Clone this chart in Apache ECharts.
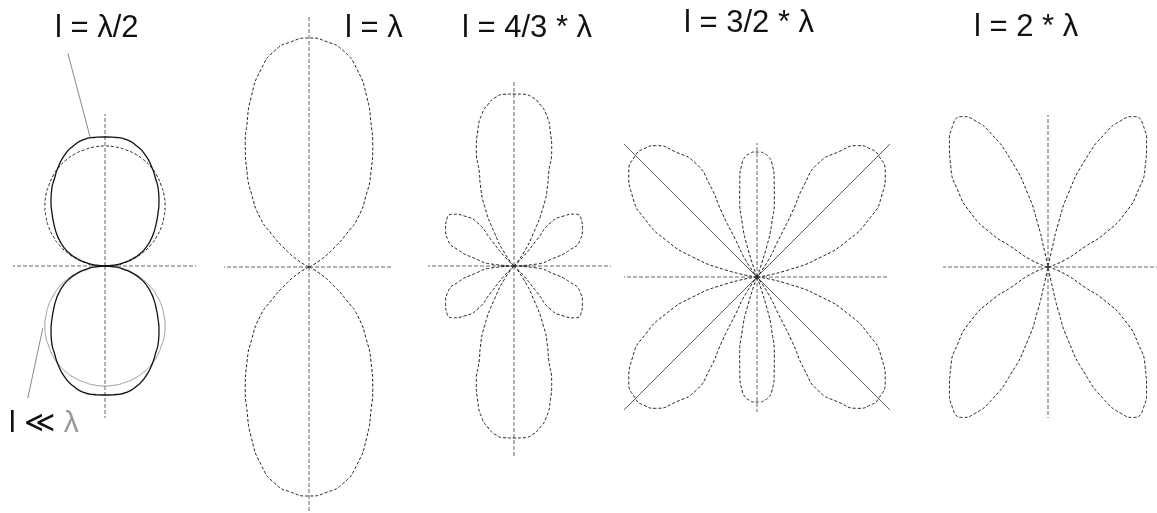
<!DOCTYPE html>
<html>
<head>
<meta charset="utf-8">
<title>Dipole radiation patterns</title>
<script src="https://cdn.jsdelivr.net/npm/echarts@6/dist/echarts.min.js"></script>
<style>
    html, body { margin: 0; padding: 0; background: #fff; }
    #main { width: 1157px; height: 513px; }
</style>
</head>
<body>
<div id="main"></div>
<script>
// outlines, one quadrant each: [angle from the dipole axis (deg), radius]
var shortDipole = [[0, 0], [5, 10.5], [10, 21], [15, 31], [20, 41], [25, 51], [30, 60], [35, 69], [40, 77], [45, 85], [50, 92],
    [55, 98], [60, 104], [65, 109], [70, 113], [75, 116], [80, 118], [85, 119.5], [90, 120]];
var halfWave = [[0, 0], [5, 9], [10, 19], [15, 29], [20, 38], [25, 46], [30, 53], [35, 60], [40, 67], [45, 75], [50, 84],
    [55, 93], [60, 101], [65, 110], [70, 118], [75, 124], [80, 128], [85, 129], [90, 129]];
var fullWave = [[0, 0], [31.3, 13], [37, 30], [41.5, 50], [45.4, 70], [51.8, 93], [56.5, 112], [62.7, 139], [65.9, 153],
    [71.3, 180], [76.5, 204], [81, 219], [85.5, 226], [90, 229]];
var fourThirdsSide = [[0, 0], [5, 23], [11, 40], [16, 58], [21.5, 71], [28.7, 78], [35, 82], [40.4, 80], [45.4, 70],
    [49.9, 56], [48.9, 35], [45, 13], [45, 0]];
var fourThirdsMain = [[54, 0], [54, 16], [59.4, 38], [63.7, 66], [67.5, 88], [69.7, 100], [72, 122], [75, 140], [78, 155],
    [81, 164], [84, 170], [87, 172], [90, 172]];
var threeHalvesBig = [[0, 0], [12.6, 32], [17.4, 68], [22, 98], [27.1, 125], [32.8, 148], [39, 165], [45.2, 172], [48.5, 171],
    [52.3, 166], [57, 149], [61.7, 129], [62.9, 105], [61.4, 72], [60, 43], [56, 20], [56, 0]];
var threeHalvesSmall = [[70, 0], [72.3, 32], [74.7, 56], [77.8, 82], [79.9, 98], [82.6, 115], [84.6, 121], [87, 124],
    [88.5, 125], [90, 125]];
var twoWave = [[0, 0], [22.4, 18], [28.8, 42], [30.6, 66], [34.9, 94], [40.5, 119], [46, 140], [51.4, 158], [55.8, 170],
    [60.4, 173], [63.4, 164], [66.9, 145], [70.9, 113], [74.6, 76], [76.7, 45], [77.7, 17], [78, 0]];

// dashed reference axes of each diagram: [angle, arm length]
var arms1 = [[90, 152], [270, 152], [180, 92], [0, 91]];
var arms2 = [[90, 252], [270, 246], [180, 85], [0, 84]];
var arms3 = [[90, 186], [270, 192], [180, 86], [0, 97]];
var arms4 = [[90, 134], [270, 135], [180, 133], [0, 131]];
var diag4 = [[45, 188], [135, 188], [225, 188], [315, 188]];
var arms5 = [[90, 152], [270, 151], [180, 105], [0, 109]];

// pointer lines of the first diagram: [angle, radius] at both ends
var pointerHalf = [[96.6, 130], [99.9, 216]];
var pointerShort = [[225, 88], [239.7, 153]];

var labels = ['l = λ/2', 'l = λ', 'l = 4/3 * λ', 'l = 3/2 * λ', 'l = 2 * λ'];

var centers = [[105, 266], [309, 267], [514, 266], [757, 277], [1048, 267]];
var labelPos = [[55, 13], [345, 13], [462, 13], [684, 8], [974, 12]];

var FONT = 'Liberation Sans, DejaVu Sans, sans-serif';
var SMOOTH = 0.6;

function toPolar(path, fn) {
    return path.map(function (p) { return [p[1], fn(p[0])]; });
}

// lobe split by the vertical axis: quadrant path mirrored into the other half
function upperLobe(path) {
    var right = toPolar(path, function (a) { return a; });
    var left = toPolar(path, function (a) { return 180 - a; }).reverse().slice(1);
    return right.concat(left);
}

function lowerLobe(path) {
    return upperLobe(path).map(function (p) { return [p[0], 360 - p[1]]; });
}

function quadLobes(path) {
    return [
        toPolar(path, function (a) { return a; }),
        toPolar(path, function (a) { return 180 - a; }),
        toPolar(path, function (a) { return 180 + a; }),
        toPolar(path, function (a) { return 360 - a; })
    ];
}

var curveDash = {color: '#222', width: 1, type: [3, 2]};
var axisDash = {color: '#666', width: 1, type: [4, 2]};
var solidBlack = {color: '#111', width: 1.3};
var solidGray = {color: '#9a9a9a', width: 1};
var diagLine = {color: '#333', width: 0.8};
var pointerLine = {color: '#888', width: 1};

var series = [];

function addLine(pi, data, style, smooth) {
    series.push({
        type: 'line',
        coordinateSystem: 'polar',
        polarIndex: pi,
        data: data,
        symbol: 'none',
        smooth: smooth || false,
        clip: false,
        silent: true,
        lineStyle: style
    });
}

function addArms(pi, arms, style) {
    arms.forEach(function (a) {
        addLine(pi, [[0, a[0]], [a[1], a[0]]], style);
    });
}

// 1: l = λ/2 against l << λ
addArms(0, arms1, axisDash);
addLine(0, upperLobe(shortDipole), curveDash, SMOOTH);
addLine(0, lowerLobe(shortDipole), solidGray, SMOOTH);
addLine(0, upperLobe(halfWave), solidBlack, SMOOTH);
addLine(0, lowerLobe(halfWave), solidBlack, SMOOTH);
addLine(0, toPolar(pointerHalf, function (a) { return a; }), pointerLine);
addLine(0, toPolar(pointerShort, function (a) { return a; }), pointerLine);

// 2: l = λ
addArms(1, arms2, axisDash);
addLine(1, upperLobe(fullWave), curveDash, SMOOTH);
addLine(1, lowerLobe(fullWave), curveDash, SMOOTH);

// 3: l = 4/3 λ
addArms(2, arms3, axisDash);
quadLobes(fourThirdsSide).forEach(function (d) { addLine(2, d, curveDash, SMOOTH); });
addLine(2, upperLobe(fourThirdsMain), curveDash, SMOOTH);
addLine(2, lowerLobe(fourThirdsMain), curveDash, SMOOTH);

// 4: l = 3/2 λ
addArms(3, arms4, axisDash);
addArms(3, diag4, diagLine);
quadLobes(threeHalvesBig).forEach(function (d) { addLine(3, d, curveDash, SMOOTH); });
addLine(3, upperLobe(threeHalvesSmall), curveDash, SMOOTH);
addLine(3, lowerLobe(threeHalvesSmall), curveDash, SMOOTH);

// 5: l = 2 λ
addArms(4, arms5, axisDash);
quadLobes(twoWave).forEach(function (d) { addLine(4, d, curveDash, SMOOTH); });

var titles = labels.map(function (t, i) {
    return {
        text: t,
        left: labelPos[i][0],
        top: labelPos[i][1],
        padding: 0,
        textStyle: {fontFamily: FONT, fontSize: 31, fontWeight: 'normal', color: '#111'}
    };
});
titles.push({
    text: '{a|l ≪ }{b|λ}',
    left: 9,
    top: 409,
    padding: 0,
    textStyle: {
        rich: {
            a: {fontFamily: FONT, fontSize: 30, fontWeight: 'normal', color: '#111'},
            b: {fontFamily: FONT, fontSize: 30, fontWeight: 'normal', color: '#999'}
        }
    }
});

var myChart = echarts.init(document.getElementById('main'));
myChart.setOption({
    backgroundColor: '#fff',
    animation: false,
    title: titles,
    polar: centers.map(function (c) { return {center: c, radius: 300}; }),
    angleAxis: centers.map(function (c, i) {
        return {polarIndex: i, type: 'value', min: 0, max: 360, startAngle: 0, clockwise: false, show: false};
    }),
    radiusAxis: centers.map(function (c, i) {
        return {polarIndex: i, type: 'value', min: 0, max: 300, show: false};
    }),
    series: series
});
</script>
</body>
</html>
